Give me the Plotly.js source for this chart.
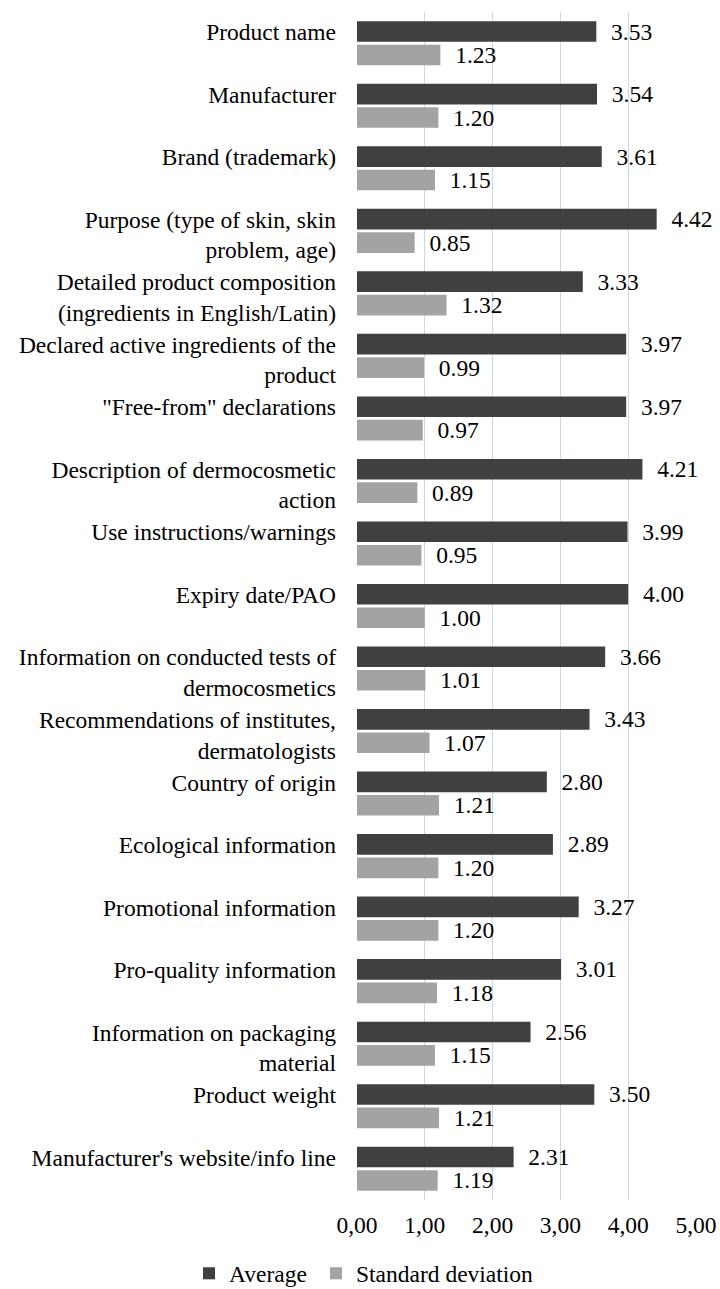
<!DOCTYPE html>
<html>
<head>
<meta charset="utf-8">
<script src="https://cdn.plot.ly/plotly-3.0.1.min.js"></script>
<style>
  html, body { margin: 0; padding: 0; background: #fff; }
  #chart { width: 720px; height: 1289px; }
</style>
</head>
<body>
<div id="chart"></div>
<script>
const categories = [
  "Product name",
  "Manufacturer",
  "Brand (trademark)",
  "Purpose (type of skin, skin<br>problem, age)",
  "Detailed product composition<br>(ingredients in English/Latin)",
  "Declared active ingredients of the<br>product",
  "\"Free-from\" declarations",
  "Description of dermocosmetic<br>action",
  "Use instructions/warnings",
  "Expiry date/PAO",
  "Information on conducted tests of<br>dermocosmetics",
  "Recommendations of institutes,<br>dermatologists",
  "Country of origin",
  "Ecological information",
  "Promotional information",
  "Pro-quality information",
  "Information on packaging<br>material",
  "Product weight",
  "Manufacturer's website/info line"
];
const averageValues = [3.53, 3.54, 3.61, 4.42, 3.33, 3.97, 3.97, 4.21, 3.99, 4.00, 3.66, 3.43, 2.80, 2.89, 3.27, 3.01, 2.56, 3.50, 2.31];
const stdValues = [1.23, 1.20, 1.15, 0.85, 1.32, 0.99, 0.97, 0.89, 0.95, 1.00, 1.01, 1.07, 1.21, 1.20, 1.20, 1.18, 1.15, 1.21, 1.19];
const tickValues = [0, 1, 2, 3, 4, 5];
const tickLabels = ["0,00", "1,00", "2,00", "3,00", "4,00", "5,00"];
const seriesNames = ["Average", "Standard deviation"];

const FONT = "'Liberation Serif', 'Times New Roman', serif";
const FS = 23.5;
const labelText = categories.map(c => c.includes("<br>") ? c : c + "<br> ");

const common = {
  type: "bar",
  orientation: "h",
  y: categories,
  texttemplate: "\u00a0\u00a0%{x:.2f}",
  textposition: "outside",
  cliponaxis: false,
  constraintext: "none",
  textfont: { family: FONT, size: FS, color: "#000" },
  hoverinfo: "x+y+name"
};

const traces = [
  Object.assign({}, common, {
    name: seriesNames[0],
    x: averageValues,
    legend: "legend",
    marker: { color: "#404040" }
  }),
  Object.assign({}, common, {
    name: seriesNames[1],
    x: stdValues,
    legend: "legend2",
    marker: { color: "#a3a3a3" }
  })
];

const legendBase = {
  orientation: "h",
  xref: "container",
  yref: "container",
  xanchor: "left",
  y: 0.012,
  yanchor: "middle",
  font: { family: FONT, size: FS, color: "#000" },
  itemwidth: 30,
  bgcolor: "rgba(0,0,0,0)"
};

const layout = {
  width: 720,
  height: 1289,
  margin: { l: 357, r: 24, t: 12, b: 89 },
  paper_bgcolor: "#fff",
  plot_bgcolor: "#fff",
  font: { family: FONT, size: FS, color: "#000" },
  barmode: "group",
  bargap: 0.25,
  bargroupgap: 0.12,
  showlegend: true,
  legend: Object.assign({}, legendBase, { x: 189 / 720 }),
  legend2: Object.assign({}, legendBase, { x: 316 / 720 }),
  xaxis: {
    range: [0, 5],
    tickvals: tickValues,
    ticktext: tickLabels,
    showgrid: true,
    gridcolor: "#c8d8ec",
    gridwidth: 1,
    zeroline: false,
    showline: false,
    ticks: "",
    ticklabelstandoff: 8,
    tickfont: { family: FONT, size: FS, color: "#000" },
    fixedrange: true
  },
  yaxis: {
    type: "category",
    autorange: "reversed",
    tickvals: categories,
    ticktext: labelText,
    showgrid: false,
    zeroline: false,
    showline: false,
    ticks: "",
    ticklabelstandoff: 20,
    ticklabelshift: -4,
    tickfont: { family: FONT, size: FS, color: "#000" },
    fixedrange: true
  }
};

Plotly.newPlot("chart", traces, layout, { displayModeBar: false, staticPlot: true });
</script>
</body>
</html>
